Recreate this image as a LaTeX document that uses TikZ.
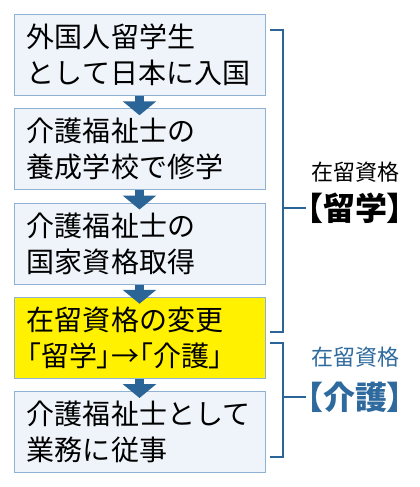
\documentclass[tikz,border=0pt]{standalone}
\usepackage{fontspec}
\setmainfont{Noto Sans CJK JP}
\newfontfamily\jppalt{Noto Sans CJK JP}[RawFeature=+palt]
\usetikzlibrary{arrows.meta, positioning}
\definecolor{boxfill}{HTML}{EEF4FA}
\definecolor{boxline}{HTML}{8FB1D2}
\definecolor{flowblue}{HTML}{2B6496}
\definecolor{tagblue}{HTML}{2E6A9E}
\definecolor{hilite}{HTML}{FFF100}

\begin{document}
\begin{tikzpicture}[
  x=1pt, y=1pt,
  node distance = 12.25pt,
  box/.style = {draw=boxline, fill=boxfill, line width=1pt, align=left, text width=225pt, inner xsep=13pt, minimum height=81pt, font=\fontsize{28}{36}\selectfont},
  flow/.style = {draw=flowblue, line width=9pt, -{Triangle[width=33pt,length=14pt]}, shorten >=-7pt},
  brace/.style = {draw=flowblue, line width=2.5pt},
  tag/.style = {inner sep=2pt, font=\fontsize{22}{26}\selectfont},
  bigtag/.style = {inner sep=1pt, font=\jppalt\bfseries\fontsize{32}{36}\selectfont}
]
\useasboundingbox (0,0) rectangle (420,-487);

% flow of boxes
\node[box] (entry) at (139.5,-55) {外国人留学生\\として日本に入国};
\node[box, below=of entry] (school) {介護福祉士の\\養成学校で修学};
\node[box, below=of school] (exam) {介護福祉士の\\国家資格取得};
\node[box, below=of exam, fill=hilite] (change) {在留資格の変更\\{\jppalt「留学」→「介護」}};
\node[box, below=of change] (work) {介護福祉士として\\業務に従事};

\draw[flow] (entry) -- (school);
\draw[flow] (school) -- (exam);
\draw[flow] (exam) -- (change);
\draw[flow] (change) -- (work);

% status labels
\node[tag] (studyhead) at (355,-172) {在留資格};
\node[bigtag] (study) at (355,-208) {【留学】};
\node[tag, text=tagblue] (carehead) at (355,-357) {在留資格};
\node[bigtag, text=tagblue] (care) at (355,-397) {【介護】};

% brackets
\coordinate (s1) at (270,-30);
\coordinate (s2) at (283,-30);
\coordinate (s3) at (283,-332);
\coordinate (s4) at (270,-332);
\coordinate (sm) at (283,-208);
\draw[brace] (s1) -- (s2) -- (s3) -- (s4);
\draw[brace] (sm) -- (study.west);

\coordinate (c1) at (270,-343);
\coordinate (c2) at (283,-343);
\coordinate (c3) at (283,-457);
\coordinate (c4) at (270,-457);
\coordinate (cm) at (283,-397);
\draw[brace] (c1) -- (c2) -- (c3) -- (c4);
\draw[brace] (cm) -- (care.west);
\end{tikzpicture}
\end{document}
